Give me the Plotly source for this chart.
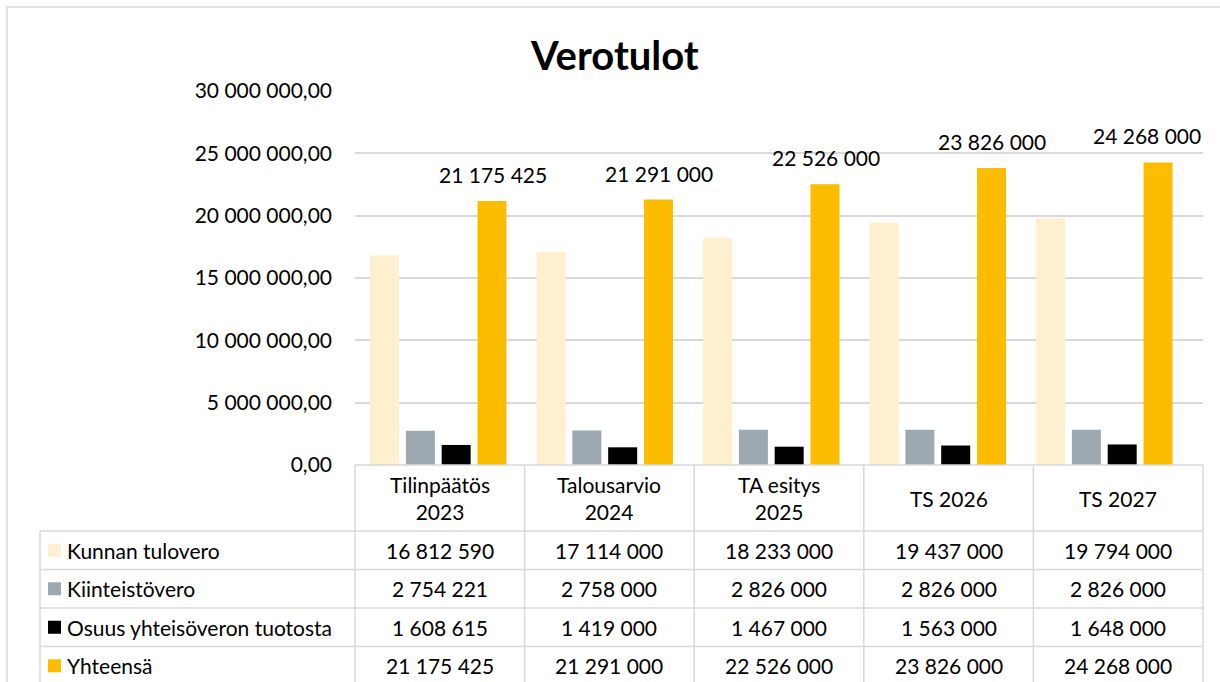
import plotly.graph_objects as go

# ---- data ----
categories = ["Tilinpäätös<br>2023", "Talousarvio<br>2024", "TA esitys<br>2025", "TS 2026", "TS 2027"]
series_names = ["Kunnan tulovero", "Kiinteistövero", "Osuus yhteisöveron tuotosta", "Yhteensä"]
kunnan_tulovero = [16812590, 17114000, 18233000, 19437000, 19794000]
kiinteistovero = [2754221, 2758000, 2826000, 2826000, 2826000]
yhteisovero = [1608615, 1419000, 1467000, 1563000, 1648000]
yhteensa = [21175425, 21291000, 22526000, 23826000, 24268000]
y_ticks = [0, 5000000, 10000000, 15000000, 20000000, 25000000, 30000000]

series_values = [kunnan_tulovero, kiinteistovero, yhteisovero, yhteensa]
colors = ["#FEEFCF", "#9EA8B0", "#000000", "#FCBC00"]

# ---- style / layout (pixel geometry) ----
W, H = 1220, 682
FONT = "Lato"
FS = 21
GRID = "#D9D9D9"
plot_l, plot_r, plot_t, plot_b = 355, 1203, 91, 465
table_l = 40
header_h = 66
row_h = 38.5
bargap, bargroupgap = 0.14, 0.19


def px(x):
    return x / W


def py(y):
    return 1 - y / H


def fmt(v):
    return f"{v:,}".replace(",", " ")


fig = go.Figure()
for name, vals, col in zip(series_names, series_values, colors):
    fig.add_trace(go.Bar(
        x=categories, y=vals, name=name, marker=dict(color=col, line=dict(width=0)),
        showlegend=False,
    ))

annotations = []
shapes = []

# data labels on total bars (offset of the 4th bar within each group)
cat_w = (plot_r - plot_l) / len(categories)
group_w = cat_w * (1 - bargap)
slot = group_w / len(series_names)
total_offset = -group_w / 2 + slot * (len(series_names) - 0.5)
for i, (c, v) in enumerate(zip(categories, yhteensa)):
    extra = -12 if i == len(categories) - 1 else 0
    annotations.append(dict(
        x=c, y=v, xref="x", yref="y", text=fmt(v), showarrow=False,
        xanchor="center", yanchor="bottom", xshift=total_offset + extra, yshift=12,
        font=dict(family=FONT, size=FS, color="#000000"),
    ))

# ---- data table (drawn with lines + text) ----
line_style = dict(color=GRID, width=1.5)
n_rows = len(series_names)
rows_top = plot_b + header_h
table_bottom = rows_top + n_rows * row_h
col_edges = [plot_l + cat_w * i for i in range(len(categories) + 1)]

# horizontal lines
shapes.append(dict(type="line", xref="paper", yref="paper", x0=px(plot_l), x1=px(plot_r),
                   y0=py(plot_b), y1=py(plot_b), line=line_style))
for r in range(n_rows + 1):
    yy = rows_top + r * row_h
    shapes.append(dict(type="line", xref="paper", yref="paper", x0=px(table_l), x1=px(plot_r),
                       y0=py(yy), y1=py(yy), line=line_style))
# vertical lines
shapes.append(dict(type="line", xref="paper", yref="paper", x0=px(table_l), x1=px(table_l),
                   y0=py(rows_top), y1=py(table_bottom), line=line_style))
for xe in col_edges:
    shapes.append(dict(type="line", xref="paper", yref="paper", x0=px(xe), x1=px(xe),
                       y0=py(plot_b), y1=py(table_bottom), line=line_style))

# header texts
for i, c in enumerate(categories):
    annotations.append(dict(
        text=c, x=px(col_edges[i] + cat_w / 2), y=py(plot_b + header_h / 2),
        xref="paper", yref="paper", showarrow=False, xanchor="center", yanchor="middle",
        align="center", font=dict(family=FONT, size=FS, color="#000000"),
    ))

# row labels with legend keys, values
for r, (name, vals, col) in enumerate(zip(series_names, series_values, colors)):
    yc = rows_top + r * row_h + row_h / 2
    shapes.append(dict(type="rect", xref="paper", yref="paper",
                       x0=px(table_l + 8), x1=px(table_l + 21),
                       y0=py(yc - 6.5), y1=py(yc + 6.5),
                       fillcolor=col, line=dict(width=0)))
    annotations.append(dict(
        text=name, x=px(table_l + 25), y=py(yc), xref="paper", yref="paper",
        showarrow=False, xanchor="left", yanchor="middle",
        font=dict(family=FONT, size=FS, color="#000000"),
    ))
    for i, v in enumerate(vals):
        annotations.append(dict(
            text=fmt(v), x=px(col_edges[i] + cat_w / 2), y=py(yc), xref="paper", yref="paper",
            showarrow=False, xanchor="center", yanchor="middle",
            font=dict(family=FONT, size=FS, color="#000000"),
        ))

# chart frame
shapes.append(dict(type="rect", xref="paper", yref="paper", x0=px(7), x1=1.05,
                   y0=-0.05, y1=py(7), line=dict(color=GRID, width=1.5),
                   fillcolor="rgba(0,0,0,0)", layer="below"))

# title
annotations.append(dict(text="<b>Verotulot</b>", x=px(615), y=py(55), xref="paper", yref="paper",
                        showarrow=False, xanchor="center", yanchor="middle",
                        font=dict(family=FONT, size=40, color="#000000")))

fig.update_layout(
    width=W, height=H,
    margin=dict(l=0, r=0, t=0, b=0),
    paper_bgcolor="white", plot_bgcolor="white",
    barmode="group", bargap=bargap, bargroupgap=bargroupgap,
    separators=", ",
    xaxis=dict(domain=[px(plot_l), px(plot_r)], type="category", showticklabels=False,
               showgrid=False, zeroline=False, showline=False, ticks=""),
    yaxis=dict(domain=[py(plot_b), py(plot_t)], range=[0, 30000000],
               tickvals=y_ticks, tickformat=",.2f", showgrid=True, gridcolor=GRID,
               gridwidth=1.5, zeroline=False, showline=False, ticks="",
               ticklabelstandoff=22, automargin=False,
               tickfont=dict(family=FONT, size=FS, color="#000000")),
    shapes=shapes,
    annotations=annotations,
)

fig.write_html("out.html", config={"displayModeBar": False},
               post_script="document.body.style.margin='0';")
